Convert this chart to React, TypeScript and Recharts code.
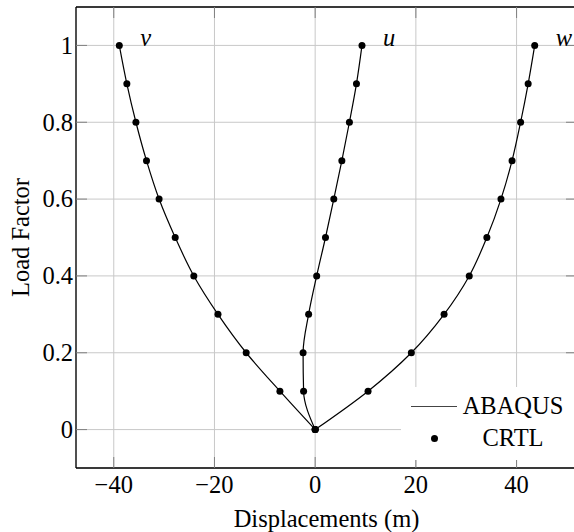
import {
  ComposedChart,
  Line,
  XAxis,
  YAxis,
  CartesianGrid,
  ReferenceLine,
  LabelList,
} from "recharts";

// load levels (y) and displacements (x)
const loadFactor = [0, 0.1, 0.2, 0.3, 0.4, 0.5, 0.6, 0.7, 0.8, 0.9, 1.0];
const uDisp = [0, -2.3, -2.4, -1.3, 0.3, 2.05, 3.7, 5.3, 6.8, 8.2, 9.3];
const vDisp = [0, -7.0, -13.7, -19.3, -24.1, -27.8, -31.0, -33.5, -35.6, -37.4, -38.9];
const wDisp = [0, 10.5, 19.1, 25.6, 30.6, 34.1, 36.9, 39.1, 40.8, 42.3, 43.6];

const seriesKeys = ["v", "u", "w"];
const legendNames = ["ABAQUS", "CRTL"];
const xTicks = [-40, -20, 0, 20, 40];
const yTicks = [0, 0.2, 0.4, 0.6, 0.8, 1];
const xDomain = [-47.5, 52];
const yDomain = [-0.1, 1.1];

const data = loadFactor.map((load, i) => ({
  load,
  u: uDisp[i],
  v: vDisp[i],
  w: wDisp[i],
}));

const FONT = "'Liberation Serif', 'Times New Roman', serif";
const FS = 24.5;
const W = 582;
const H = 532;
const MARGIN = { top: 7, right: 5, left: 0, bottom: 0 };
const Y_W = 76;
const X_H = 64;
const PLOT_LEFT = MARGIN.left + Y_W;
const PLOT_RIGHT = W - MARGIN.right;
const PLOT_TOP = MARGIN.top;
const PLOT_BOTTOM = H - MARGIN.bottom - X_H;
const TICK_LEN = 11;
const TICK_COLOR = "#808080";

const fmtNum = (v: number) => String(v).replace("-", "\u2212");
const textStyle = { fontFamily: FONT, fontSize: FS };

function XTick(props: any) {
  const { x, y, payload } = props;
  return (
    <g>
      <line x1={x} x2={x} y1={PLOT_BOTTOM} y2={PLOT_BOTTOM - TICK_LEN} stroke={TICK_COLOR} />
      <line x1={x} x2={x} y1={PLOT_TOP} y2={PLOT_TOP + TICK_LEN} stroke={TICK_COLOR} />
      <text x={x} y={y} dy="0.71em" textAnchor="middle" fill="#000" style={textStyle}>
        {fmtNum(payload.value)}
      </text>
    </g>
  );
}

function YTick(props: any) {
  const { x, y, payload } = props;
  return (
    <g>
      <line x1={PLOT_LEFT} x2={PLOT_LEFT + TICK_LEN} y1={y} y2={y} stroke={TICK_COLOR} />
      <line x1={PLOT_RIGHT} x2={PLOT_RIGHT - TICK_LEN} y1={y} y2={y} stroke={TICK_COLOR} />
      <text x={x} y={y} dy="0.34em" textAnchor="end" fill="#000" style={textStyle}>
        {fmtNum(payload.value)}
      </text>
    </g>
  );
}

function LegendBox() {
  const txt = {
    position: "absolute" as const,
    left: 56,
    width: 112,
    textAlign: "center" as const,
    fontFamily: FONT,
    fontSize: FS,
    lineHeight: "28px",
    color: "#000",
  };
  return (
    <div style={{ position: "absolute", left: 401, top: 387, width: 180, height: 73, background: "#fff" }}>
      <div style={{ position: "absolute", left: 10, top: 18.5, width: 46, height: 1.2, background: "#444" }} />
      <div style={{ ...txt, top: 5 }}>{legendNames[0]}</div>
      <div
        style={{
          position: "absolute",
          left: 29.5,
          top: 47.8,
          width: 7,
          height: 7,
          borderRadius: "50%",
          background: "#000",
        }}
      />
      <div style={{ ...txt, top: 37 }}>{legendNames[1]}</div>
    </div>
  );
}

export default function App() {
  const last = loadFactor.length - 1;
  return (
    <div style={{ position: "absolute", left: 0, top: 0, width: 574, height: 532, overflow: "hidden", background: "#fff" }}>
      <ComposedChart width={W} height={H} data={data} layout="vertical" margin={MARGIN}>
        <CartesianGrid stroke="#c8c8c8" strokeWidth={1} />
        <XAxis
          type="number"
          domain={xDomain}
          ticks={xTicks}
          allowDataOverflow
          height={X_H}
          tickSize={0}
          tickMargin={8}
          tick={<XTick />}
          axisLine={{ stroke: "#000", strokeWidth: 1.3 }}
          label={{
            content: ({ viewBox }: any) => (
              <text
                x={viewBox.x + viewBox.width / 2}
                y={viewBox.y + viewBox.height - 5}
                textAnchor="middle"
                fill="#000"
                style={textStyle}
              >
                Displacements (m)
              </text>
            ),
          }}
        />
        <YAxis
          type="number"
          dataKey="load"
          reversed
          domain={yDomain}
          ticks={yTicks}
          allowDataOverflow
          width={Y_W}
          tickSize={0}
          tickMargin={3}
          tick={<YTick />}
          axisLine={{ stroke: "#000", strokeWidth: 1.3 }}
          label={{
            content: ({ viewBox }: any) => {
              const cx = viewBox.x + 29;
              const cy = viewBox.y + viewBox.height / 2;
              return (
                <text
                  x={cx}
                  y={cy}
                  transform={`rotate(-90, ${cx}, ${cy})`}
                  textAnchor="middle"
                  fill="#000"
                  style={textStyle}
                >
                  Load Factor
                </text>
              );
            },
          }}
        />
        <ReferenceLine y={yDomain[1]} stroke="#000" strokeWidth={1.3} />
        {seriesKeys.map((k) => (
          <Line
            key={k}
            dataKey={k}
            type="monotone"
            stroke="#000"
            strokeWidth={1.2}
            dot={{ r: 3.5, fill: "#000", stroke: "none" }}
            activeDot={false}
            isAnimationActive={false}
          >
            <LabelList
              dataKey={k}
              content={(p: any) =>
                p.index === last ? (
                  <text x={p.x + 21} y={p.y + 1} fill="#000" style={{ ...textStyle, fontStyle: "italic" }}>
                    {k}
                  </text>
                ) : null
              }
            />
          </Line>
        ))}
      </ComposedChart>
      <LegendBox />
    </div>
  );
}
